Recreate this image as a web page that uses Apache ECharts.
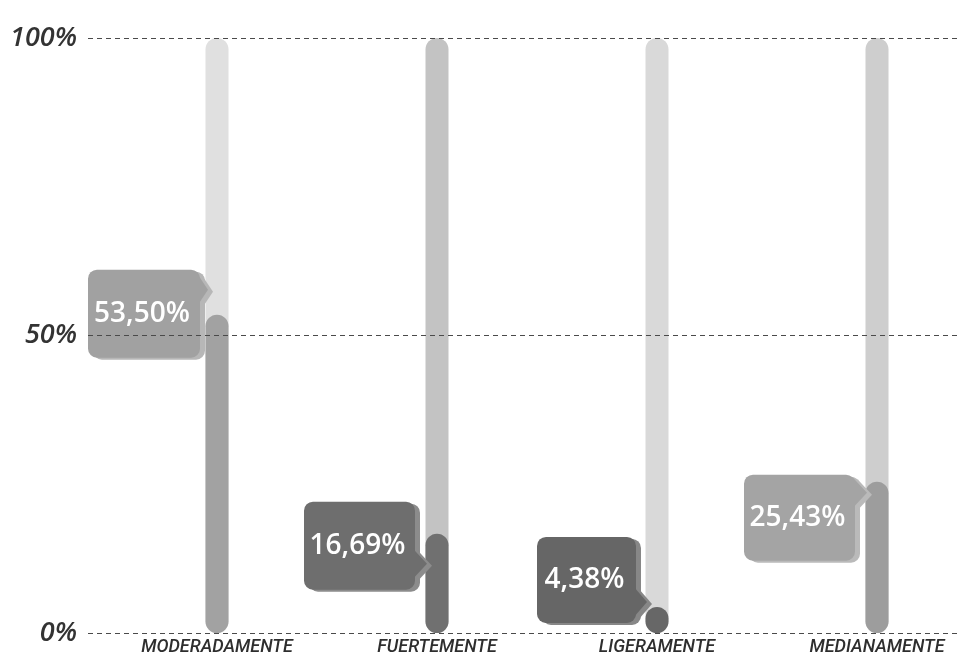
<!DOCTYPE html>
<html>
<head>
<meta charset="utf-8">
<script src="https://cdn.jsdelivr.net/npm/echarts@6/dist/echarts.min.js"></script>
<style>
  html, body { margin: 0; padding: 0; background: #fff; }
  #chart { width: 961px; height: 659px; }
</style>
</head>
<body>
<div id="chart"></div>
<script>
// data
const categories = ['MODERADAMENTE', 'FUERTEMENTE', 'LIGERAMENTE', 'MEDIANAMENTE']
const values = [53.50, 16.69, 4.38, 25.43]
const fullValues = [100, 100, 100, 100]
const yTickLabels = { 0: '0%', 50: '50%', 100: '100%' }

// greys per column
const trackColors = ['#e0e0e0', '#c3c3c3', '#d9d9d9', '#cecece']
const barColors = ['#a2a2a2', '#707070', '#676767', '#9d9d9d']
const tagColors = ['#a1a1a1', '#6e6e6e', '#666666', '#a4a4a4']
const tagShadow = ['#b7b7b7', '#8c8c8c', '#878787', '#bababa']

// tag box relative to the bar top point (px)
const tagLayout = [
  { x0: -129, x1: -17, y0: -45, y1: 43, tipX: -9, tipY: -25 },
  { x0: -133, x1: -22, y0: -32, y1: 56, tipX: -10, tipY: 30 },
  { x0: -120, x1: -21, y0: -70, y1: 16, tipX: -10, tipY: -5 },
  { x0: -133, x1: -22, y0: -7, y1: 79, tipX: -10, tipY: 11 }
]

function fmt(v) {
  return v.toFixed(2).replace('.', ',') + '%'
}

function tagShapes(p, L, dx, dy, color) {
  const left = p[0] + L.x0 + dx
  const right = p[0] + L.x1 + dx
  const top = p[1] + L.y0 + dy
  const bottom = p[1] + L.y1 + dy
  const ty = p[1] + L.tipY + dy
  return [
    {
      type: 'rect',
      shape: { x: left, y: top, width: right - left, height: bottom - top, r: 9 },
      style: { fill: color }
    },
    {
      type: 'polygon',
      shape: { points: [[right - 2, ty - 15], [p[0] + L.tipX + dx, ty], [right - 2, ty + 15]] },
      style: { fill: color }
    }
  ]
}

const chart = echarts.init(document.getElementById('chart'))

chart.setOption({
  animation: false,
  grid: [
    { left: 88, right: 0, top: 38, bottom: 26 },
    { left: 217, right: 84, top: 38, bottom: 26 }
  ],
  xAxis: [
    { gridIndex: 0, type: 'category', data: categories, show: false },
    {
      gridIndex: 1,
      type: 'category',
      data: categories,
      boundaryGap: false,
      axisLine: { show: false },
      axisTick: { show: false },
      axisLabel: {
        margin: 5,
        color: '#2e2e2e',
        fontSize: 18,
        fontStyle: 'italic',
        fontWeight: 500,
        fontFamily: 'Roboto, sans-serif'
      }
    }
  ],
  yAxis: [
    {
      gridIndex: 0,
      type: 'value',
      min: 0,
      max: 100,
      interval: 50,
      z: 10,
      axisLine: { show: false },
      axisTick: { show: false },
      axisLabel: {
        margin: 11,
        color: '#333',
        fontSize: 27,
        fontStyle: 'italic',
        fontWeight: 600,
        fontFamily: '"Open Sans", sans-serif',
        formatter: v => yTickLabels[v]
      },
      splitLine: {
        show: true,
        lineStyle: { color: '#4a4a4a', width: 1, type: [5, 4] }
      }
    },
    { gridIndex: 1, type: 'value', min: 0, max: 100, show: false }
  ],
  series: [
    {
      name: 'track',
      type: 'bar',
      xAxisIndex: 1,
      yAxisIndex: 1,
      barWidth: 23,
      barGap: '-100%',
      data: fullValues.map((v, i) => ({ value: v, itemStyle: { color: trackColors[i] } })),
      itemStyle: { borderRadius: 12 },
      silent: true
    },
    {
      name: 'valor',
      type: 'bar',
      xAxisIndex: 1,
      yAxisIndex: 1,
      barWidth: 23,
      barGap: '-100%',
      data: values.map((v, i) => ({ value: v, itemStyle: { color: barColors[i] } })),
      itemStyle: { borderRadius: 12 }
    },
    {
      name: 'etiqueta',
      type: 'custom',
      xAxisIndex: 1,
      yAxisIndex: 1,
      z: 5,
      clip: false,
      data: values.map((v, i) => [i, v]),
      renderItem: function (params, api) {
        const i = params.dataIndex
        const p = api.coord([api.value(0), api.value(1)])
        const L = tagLayout[i]
        const cx = p[0] + (L.x0 + L.x1) / 2
        const cy = p[1] + (L.y0 + L.y1) / 2
        return {
          type: 'group',
          children: [
            ...tagShapes(p, L, 5, 2, tagShadow[i]),
            ...tagShapes(p, L, 0, 0, tagColors[i]),
            {
              type: 'text',
              style: {
                x: cx - 2,
                y: cy,
                text: fmt(values[i]),
                fill: '#fff',
                font: '600 28px "Open Sans", sans-serif',
                align: 'center',
                verticalAlign: 'middle'
              }
            }
          ]
        }
      }
    }
  ]
})
</script>
</body>
</html>
